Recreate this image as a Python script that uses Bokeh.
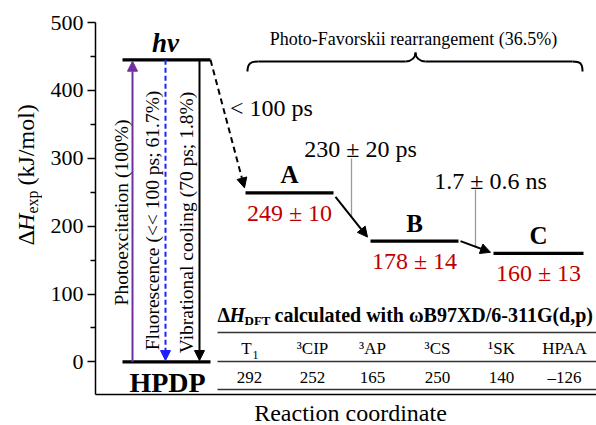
import math
from bokeh.plotting import figure
from bokeh.layouts import row, column
from bokeh.models import Range1d, FixedTicker, Arrow, NormalHead, Label, ColumnDataSource
from bokeh.core.properties import value
from bokeh.embed import file_html
from bokeh.resources import INLINE

# ---------------- data ----------------
hv_energy = 445
ground_energy = 0
state_names = ["A", "B", "C"]
state_energy = [249, 178, 160]
state_error = [10, 14, 13]
time_labels = ["< 100 ps", "230 ± 20 ps", "1.7 ± 0.6 ns"]
vertical_labels = ["Photoexcitation (100%)",
                   "Fluorescence (<< 100 ps; 61.7%)",
                   "Vibrational cooling (70 ps; 1.8%)"]
dft_headers = ["T", "³CIP", "³AP", "³CS", "¹SK", "HPAA"]
dft_header_sub = ["1", "", "", "", "", ""]
dft_values = [292, 252, 165, 250, 140, -126]
y_ticks = [0, 100, 200, 300, 400, 500]
y_minor = [50, 150, 250, 350, 450]

# ---------------- layout ----------------
FONT = "Liberation Serif"
W, H = 596, 425
LW = 42                      # width of the strip holding the y-axis title
TOP, BOTTOM, LEFT = 22, 394, 95
PB = 4                       # bottom border under the frame (x-axis line)
TH = BOTTOM + PB             # height of the upper row
Y0, Y1 = -48, 500


def Y(py):
    """pixel row -> data value (layout helper for annotations)"""
    return Y1 - (py - TOP) * (Y1 - Y0) / (BOTTOM - TOP)


UPP = (Y1 - Y0) / (BOTTOM - TOP)  # data units per pixel

common = dict(output_backend="svg", toolbar_location=None, min_border_top=TOP,
              min_border_bottom=PB, min_border_right=0)

# strip with the y-axis title
lf = figure(width=LW, height=TH, x_range=Range1d(0, LW), y_range=Range1d(Y0, Y1),
            x_axis_location=None, y_axis_location=None, min_border_left=0, **common)
lf.grid.visible = False
lf.outline_line_color = None
for t, py, size, style, dx in [("Δ", 245, "24px", "normal", 0),
                                ("H", 230.5, "24px", "italic", 0),
                                ("exp", 213, "16px", "normal", 7),
                                ("(kJ/mol)", 185, "24px", "normal", 0)]:
    lf.add_layout(Label(x=25 + dx, y=Y(py), text=t, angle=math.pi / 2, text_font=FONT,
                        text_font_size=size, text_font_style=style, text_align="left",
                        text_baseline="middle", text_color="black"))

# main plot
p = figure(width=W - LW, height=TH, x_range=Range1d(LEFT, W), y_range=Range1d(Y0, Y1),
           min_border_left=LEFT - LW, **common)
p.grid.visible = False
p.outline_line_color = None

yax = p.yaxis[0]
yax.ticker = FixedTicker(ticks=y_ticks, minor_ticks=y_minor)
yax.major_label_text_font = FONT
yax.major_label_text_font_size = "22px"
yax.major_label_text_color = "black"
yax.major_tick_out = 8
yax.major_tick_in = 0
yax.minor_tick_out = 5
yax.minor_tick_in = 0
yax.axis_line_width = 1.5
yax.major_tick_line_width = 1.5
yax.minor_tick_line_width = 1.5
yax.major_label_standoff = 4
yax.axis_line_color = "black"

xax = p.xaxis[0]
xax.ticker = FixedTicker(ticks=[])
xax.major_tick_out = 0
xax.major_tick_in = 0
xax.major_label_standoff = 0
xax.major_label_text_font_size = "0px"
xax.axis_line_width = 1.5
xax.axis_line_color = "black"

# strip with the x-axis title
bf = figure(width=W, height=H - TH, x_range=Range1d(0, W), y_range=Range1d(H, TH),
            x_axis_location=None, y_axis_location=None, min_border=0,
            output_backend="svg", toolbar_location=None)
bf.grid.visible = False
bf.outline_line_color = None
bf.add_layout(Label(x=350, y=412.5, text="Reaction coordinate", text_font=FONT,
                    text_font_size="24px", text_align="center", text_baseline="middle",
                    text_color="black"))

# ---------------- energy levels ----------------
state_x0 = [245, 370, 493]
state_x1 = [333, 458, 583]
hv_x0, hv_x1 = 122, 210

lev = ColumnDataSource(dict(
    x0=[hv_x0, hv_x0] + state_x0,
    x1=[hv_x1, hv_x1] + state_x1,
    y=[hv_energy, ground_energy] + state_energy))
p.segment(x0="x0", y0="y", x1="x1", y1="y", source=lev, line_color="black",
          line_width=3.2)

sx = [(a + b) / 2 for a, b in zip(state_x0, state_x1)]
st = ColumnDataSource(dict(
    x=sx, y=state_energy, name=state_names,
    val=[f"{e} ± {err}" for e, err in zip(state_energy, state_error)]))
p.text(x="x", y="y", text="name", source=st, text_font=value(FONT),
       text_font_size="25px", text_font_style="bold", text_align="center",
       text_baseline="middle", y_offset=-18, text_color="black")
p.text(x="x", y="y", text="val", source=st, text_font=value(FONT),
       text_font_size="24px", text_align="center", text_baseline="middle",
       y_offset=20, text_color="#c00000")


def label(**kw):
    kw.setdefault("text_font", FONT)
    kw.setdefault("text_color", "black")
    kw.setdefault("text_align", "center")
    kw.setdefault("text_baseline", "middle")
    p.add_layout(Label(**kw))


label(x=(hv_x0 + hv_x1) / 2 - 1, y=hv_energy, y_offset=17, text="hv",
      text_font_size="27px", text_font_style="bold italic")
label(x=(hv_x0 + hv_x1) / 2 + 1, y=ground_energy, y_offset=-21, text="HPDP",
      text_font_size="28px", text_font_style="bold")

# ---------------- vertical arrows ----------------
varrows = [
    (132, ground_energy, hv_energy - 2, "#7030a0", None),
    (165, hv_energy, ground_energy + 2, "#1e1eff", "5 3"),
    (199, hv_energy, ground_energy + 2, "black", None),
]
for x, ys, ye, c, dash in varrows:
    kw = dict(line_dash=dash) if dash else {}
    p.add_layout(Arrow(end=NormalHead(size=10, fill_color=c, line_color=c, line_width=1),
                       x_start=x, y_start=ys, x_end=x, y_end=ye,
                       line_color=c, line_width=2, **kw))

vlab_x = [121, 152, 186]
vlab_y = [Y(212), Y(220), Y(222)]
for t, x, y in zip(vertical_labels, vlab_x, vlab_y):
    label(x=x, y=y, text=t, angle=math.pi / 2, text_font_size="19.5px")

# ---------------- reaction arrows ----------------
src_x = [hv_x1, state_x1[0], state_x1[1]]
src_y = [hv_energy, state_energy[0], state_energy[1]]
dst_x = state_x0
dst_y = state_energy
gaps = [(0, 0, 1, 5), (2, 4, 3, 4), (2, 0, 3, 1)]
dashes = ["6 4", None, None]
mids = []
for i in range(3):
    gx0, gy0, gx1, gy1 = gaps[i]
    xs, ys = src_x[i] + gx0, src_y[i] - gy0 * UPP
    xe, ye = dst_x[i] - gx1, dst_y[i] + gy1 * UPP
    mids.append(((xs + xe) / 2, (ys + ye) / 2))
    kw = dict(line_dash=dashes[i]) if dashes[i] else {}
    p.add_layout(Arrow(end=NormalHead(size=10, fill_color="black", line_color="black",
                                      line_width=1),
                       x_start=xs, y_start=ys, x_end=xe, y_end=ye,
                       line_color="black", line_width=2, **kw))

tl_pos = [(271, Y(107)), (360, Y(148)), (490, Y(180))]
for t, (x, y) in zip(time_labels, tl_pos):
    label(x=x, y=y, text=t, text_font_size="24px")
lead_top = [Y(158), Y(189)]
for (mx, my), yt in zip(mids[1:], lead_top):
    p.segment(x0=[mx], y0=[yt], x1=[mx], y1=[my], line_color="#9a9a9a", line_width=1.3)

# ---------------- brace ----------------
by = Y(61)
p.segment(x0=[258, 425], y0=[by, by], x1=[405, 572], y1=[by, by], line_color="black",
          line_width=2)
p.bezier(x0=[247, 405, 415, 572], y0=[Y(71), by, Y(52), by],
         x1=[258, 415, 425, 582], y1=[by, Y(52), by, Y(71)],
         cx0=[247, 411, 415, 580], cy0=[Y(63), by, Y(57), by],
         cx1=[250, 415, 419, 582], cy1=[by, Y(57), by, Y(63)],
         line_color="black", line_width=2)
label(x=413, y=Y(38), text="Photo-Favorskii rearrangement (36.5%)", text_font_size="18px")

# ---------------- DFT table ----------------
rule_y = [Y(332), Y(361), Y(389)]
p.segment(x0=[217] * 3, y0=rule_y, x1=[W] * 3, y1=rule_y, line_color="#333333",
          line_width=1.5)
ty = Y(314)
for t, x, size, style, off in [("Δ", 217, "20px", "bold", 0),
                               ("H", 229, "20px", "bold italic", 0),
                               ("DFT", 244, "13px", "bold", -6),
                               ("calculated with ωB97XD/6-311G(d,p)", 274, "20px", "bold", 0)]:
    label(x=x, y=ty, y_offset=off, text=t, text_font_size=size, text_font_style=style,
          text_align="left")

col_x = [249, 312, 372, 437, 501, 564]
head_x = [x - 3 if s else x for x, s in zip(col_x, dft_header_sub)]
tab = ColumnDataSource(dict(
    x=col_x, hx=head_x, head=dft_headers,
    sub=dft_header_sub, subx=[x + 6 for x in col_x],
    val=[str(v) if v >= 0 else "–" + str(-v) for v in dft_values]))
p.text(x="hx", y=Y(348), text="head", source=tab, text_font=value(FONT),
       text_font_size="17px", text_align="center", text_baseline="middle")
p.text(x="subx", y=Y(348), text="sub", source=tab, text_font=value(FONT),
       text_font_size="12px", text_align="center", text_baseline="middle", y_offset=6)
p.text(x="x", y=Y(377), text="val", source=tab, text_font=value(FONT),
       text_font_size="17px", text_align="center", text_baseline="middle")

layout = column(row(lf, p), bf)
open("out.html", "w").write(file_html(layout, INLINE))
